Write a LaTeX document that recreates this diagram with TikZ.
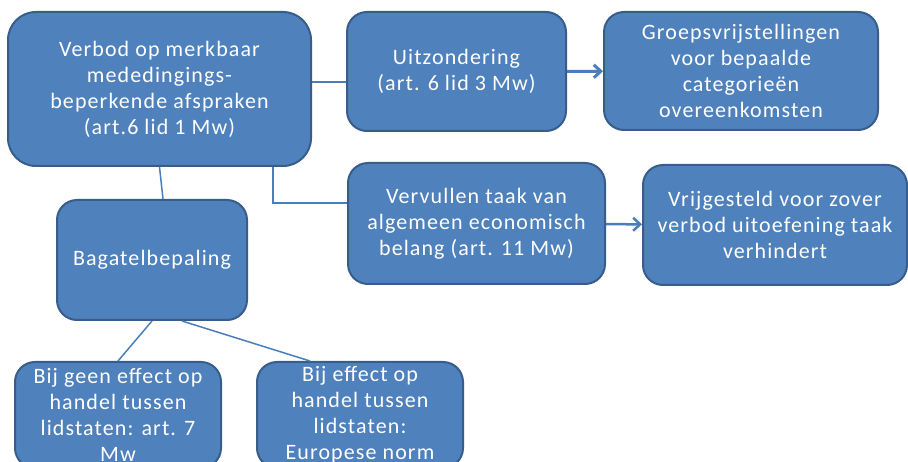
\documentclass[tikz,border=0pt]{standalone}
\usepackage{fontspec}
\setmainfont{Carlito}[LetterSpace=5]
\usetikzlibrary{arrows.meta,calc}

\definecolor{vulblauw}{RGB}{79,129,189}
\definecolor{randblauw}{RGB}{56,93,138}
\definecolor{lijnblauw}{RGB}{74,126,187}

\begin{document}
\begin{tikzpicture}[x=1pt, y=-1pt,
        blok/.style={draw=randblauw, line width=2pt, fill=vulblauw, rounded corners=20pt,
            text=white, align=center, inner sep=0pt, font=\fontsize{22}{26}\selectfont},
        lijn/.style={lijnblauw, line width=1.5pt},
        pijl/.style={lijnblauw, line width=3pt, -{Straight Barb[length=7pt,width=13pt]}}]
    \useasboundingbox (0,0) rectangle (908,462);
    \clip (0,0) rectangle (908,462);

    % Blokken
    \node[blok, minimum width=303pt, minimum height=154pt, rounded corners=28pt] (verbod) at (159.5,89)
        {Verbod op merkbaar\\mededingings-\\beperkende afspraken\\(art.6 lid 1 Mw)};
    \node[blok, minimum width=219pt, minimum height=119pt] (uitz) at (456.5,71.5)
        {Uitzondering\\(art. 6 lid 3 Mw)};
    \node[blok, minimum width=274pt, minimum height=118pt] (groeps) at (741,71)
        {Groepsvrijstellingen\\voor bepaalde\\categorieën\\overeenkomsten};
    \node[blok, minimum width=257pt, minimum height=121pt] (verv) at (476.5,223.5)
        {Vervullen taak van\\algemeen economisch\\belang (art. 11 Mw)};
    \node[blok, minimum width=264pt, minimum height=120pt] (vrij) at (775,225)
        {Vrijgesteld voor zover\\verbod uitoefening taak\\verhindert};
    \node[blok, minimum width=190pt, minimum height=120pt] (bagatel) at (152,260)
        {Bagatelbepaling};
    \node[blok, minimum width=206pt, minimum height=106pt] (geen) at (118,415)
        {Bij geen effect op\\handel tussen\\lidstaten: art. 7\\Mw};
    \node[blok, minimum width=206pt, minimum height=106pt] (effect) at (360,415)
        {Bij effect op\\handel tussen\\lidstaten:\\Europese norm};

    % Verbindingen
    \draw[lijn] ($(verbod.east)+(0,-7)$) -- ($(uitz.west)+(0,10.5)$);
    \draw[lijn] (verbod.south) -- ($(bagatel.north)+(11,0)$);
    \draw[lijn] ($(verbod.south)+(113.5,0)$) |- ($(verv.north west)+(0,41)$);
    \draw[lijn] (bagatel.south) -- (geen.north);
    \draw[lijn] ($(bagatel.south)+(30,0)$) -- ($(effect.north)+(-50,0)$);

    % Pijlen
    \draw[pijl] (uitz) -- (groeps);
    \draw[pijl, line width=2.5pt] (verv) -- (vrij);
\end{tikzpicture}
\end{document}
